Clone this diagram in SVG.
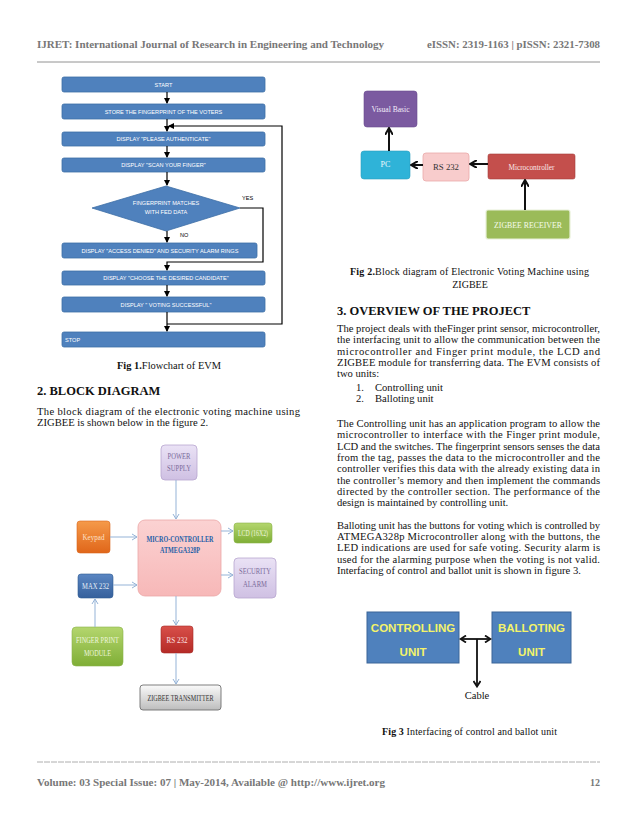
<svg xmlns="http://www.w3.org/2000/svg" width="638" height="826" viewBox="0 0 638 826">
<style>
.serif{font-family:"Liberation Serif","Times New Roman",serif;fill:#111}
.body{font-size:10.6px}
.hd{font-size:12.5px;font-weight:bold}
.cap{font-size:10px}
.pg{font-family:"Liberation Serif",serif;font-weight:bold;font-size:10px;fill:#777}
.fbox{fill:#4f81bd;stroke:#3e6ea6;stroke-width:0.8}
.ft{font-family:"Liberation Sans",Arial,sans-serif;font-size:5.6px;fill:#fff;text-anchor:middle}
.ftl{font-family:"Liberation Sans",Arial,sans-serif;font-size:5.6px;fill:#fff;text-anchor:start}
.fl{fill:none;stroke:#000;stroke-width:1.2}
.bl{fill:none;stroke:#95b3d7;stroke-width:1}
.bt{font-family:"Liberation Serif",serif;font-size:8px;text-anchor:middle}
.k{fill:none;stroke:#111;stroke-width:2}
.f3t{font-family:"Liberation Sans",Arial,sans-serif;font-weight:bold;font-size:11.5px;fill:#f4f36a;text-anchor:middle}
</style>
<defs>
<marker id="ah" markerWidth="6" markerHeight="6" refX="5" refY="3" orient="auto" markerUnits="userSpaceOnUse"><path d="M0,0 L6,3 L0,6 z" fill="#000"/></marker>
<marker id="ab" markerWidth="7" markerHeight="8" refX="6" refY="4" orient="auto" markerUnits="userSpaceOnUse"><path d="M1,1 L6,4 L1,7" fill="none" stroke="#95b3d7" stroke-width="1"/></marker>
<marker id="ak" markerWidth="8" markerHeight="8" refX="6" refY="4" orient="auto" markerUnits="userSpaceOnUse"><path d="M0,0 L7,4 L0,8" fill="none" stroke="#111" stroke-width="2"/></marker>
<marker id="ak2" markerWidth="8" markerHeight="8" refX="6" refY="4" orient="auto-start-reverse" markerUnits="userSpaceOnUse"><path d="M1,0.5 L6.5,4 L1,7.5" fill="none" stroke="#111" stroke-width="1.8"/></marker>
<linearGradient id="gPur" x1="0" y1="0" x2="0" y2="1"><stop offset="0" stop-color="#eae2f5"/><stop offset="1" stop-color="#cfc0e3"/></linearGradient>
<linearGradient id="gPink" x1="0" y1="0" x2="0" y2="1"><stop offset="0" stop-color="#fbd2d2"/><stop offset="1" stop-color="#f7b8b8"/></linearGradient>
<linearGradient id="gOr" x1="0" y1="0" x2="0" y2="1"><stop offset="0" stop-color="#f59a4a"/><stop offset="1" stop-color="#e0661a"/></linearGradient>
<linearGradient id="gGr" x1="0" y1="0" x2="0" y2="1"><stop offset="0" stop-color="#b4d66e"/><stop offset="1" stop-color="#7fae36"/></linearGradient>
<linearGradient id="gBl" x1="0" y1="0" x2="0" y2="1"><stop offset="0" stop-color="#5a86c2"/><stop offset="1" stop-color="#35609c"/></linearGradient>
<linearGradient id="gRd" x1="0" y1="0" x2="0" y2="1"><stop offset="0" stop-color="#d8504a"/><stop offset="1" stop-color="#b52a26"/></linearGradient>
<linearGradient id="gGy" x1="0" y1="0" x2="0" y2="1"><stop offset="0" stop-color="#fafafa"/><stop offset="1" stop-color="#bdbdbd"/></linearGradient>
</defs>
<rect width="638" height="826" fill="#fff"/>

<!-- page header / footer -->
<g id="header">
<text class="pg" x="37" y="48" textLength="347" lengthAdjust="spacingAndGlyphs">IJRET: International Journal of Research in Engineering and Technology</text>
<text class="pg" x="427" y="48" textLength="173" lengthAdjust="spacingAndGlyphs">eISSN: 2319-1163 | pISSN: 2321-7308</text>
<line x1="37" y1="62" x2="600" y2="62" stroke="#777" stroke-width="0.8"/>
</g>
<g id="footer">
<line x1="37" y1="762" x2="600" y2="762" stroke="#999" stroke-width="0.8" stroke-dasharray="6,1"/>
<text class="pg" x="37" y="786" textLength="348" lengthAdjust="spacingAndGlyphs">Volume: 03 Special Issue: 07 | May-2014, Available @ http://www.ijret.org</text>
<text class="pg" x="600" y="786" text-anchor="end">12</text>
</g>

<!-- Fig 1 flowchart -->
<g id="flowchart">
<g id="fc-start"><rect class="fbox" x="62" y="77" width="203" height="15" rx="2"/><text class="ft" x="163.5" y="86.5">START</text></g>
<g id="fc-store"><rect class="fbox" x="62" y="104" width="203" height="15" rx="2"/><text class="ft" x="163.5" y="113.5">STORE THE FINGERPRINT OF THE VOTERS</text></g>
<g id="fc-auth"><rect class="fbox" x="62" y="132" width="203" height="14" rx="2"/><text class="ft" x="163.5" y="141">DISPLAY "PLEASE AUTHENTICATE"</text></g>
<g id="fc-scan"><rect class="fbox" x="62" y="158" width="203" height="14" rx="2"/><text class="ft" x="163.5" y="167">DISPLAY "SCAN YOUR FINGER"</text></g>
<g id="fc-match"><polygon class="fbox" points="166,186 240,208 166,231 92,208"/><text class="ft" x="166" y="205">FINGERPRINT MATCHES</text><text class="ft" x="166" y="214">WITH FED DATA</text></g>
<g id="fc-denied"><rect class="fbox" x="62" y="243" width="195" height="15" rx="2"/><text class="ft" x="160" y="252.5">DISPLAY "ACCESS DENIED" AND SECURITY ALARM RINGS</text></g>
<g id="fc-choose"><rect class="fbox" x="62" y="271" width="203" height="14" rx="2"/><text class="ft" x="166" y="280">DISPLAY "CHOOSE THE DESIRED CANDIDATE"</text></g>
<g id="fc-voted"><rect class="fbox" x="62" y="297" width="203" height="15" rx="2"/><text class="ft" x="166" y="306.5">DISPLAY " VOTING SUCCESSFUL"</text></g>
<g id="fc-stop"><rect class="fbox" x="62" y="332" width="203" height="15" rx="2"/><text class="ftl" x="65" y="341.5">STOP</text></g>
</g>
<g id="fc-connectors">
<line class="fl" x1="167" y1="92" x2="167" y2="103" marker-end="url(#ah)"/>
<line class="fl" x1="167" y1="119" x2="167" y2="131" marker-end="url(#ah)"/>
<line class="fl" x1="167" y1="146" x2="167" y2="157" marker-end="url(#ah)"/>
<line class="fl" x1="167" y1="172" x2="167" y2="185" marker-end="url(#ah)"/>
<line class="fl" x1="167" y1="231" x2="167" y2="242" marker-end="url(#ah)"/>
<polyline class="fl" points="240,208 263,208 263,262 167,262 167,270" marker-end="url(#ah)"/>
<line class="fl" x1="167" y1="285" x2="167" y2="296" marker-end="url(#ah)"/>
<line class="fl" x1="167" y1="312" x2="167" y2="331" marker-end="url(#ah)"/>
<polyline class="fl" points="167,324 282,324 282,126 169,126" marker-end="url(#ah)"/>
<text x="242" y="200" font-family="Liberation Sans,Arial,sans-serif" font-size="5.6" fill="#000">YES</text>
<text x="180" y="237" font-family="Liberation Sans,Arial,sans-serif" font-size="5.6" fill="#000">NO</text>
</g>
<text class="serif cap" x="117" y="369" textLength="104" lengthAdjust="spacingAndGlyphs"><tspan font-weight="bold">Fig 1.</tspan>Flowchart of EVM</text>

<text class="serif hd" x="37" y="395">2. BLOCK DIAGRAM</text>
<text class="serif body" x="37" y="414.5" textLength="263" lengthAdjust="spacing">The block diagram of the electronic voting machine using</text>
<text class="serif body" x="37" y="425.5">ZIGBEE is shown below in the figure 2.</text>

<!-- Fig 2 (left) block diagram -->
<g id="block-diagram">
<g id="bd-power"><rect x="161" y="445" width="36" height="35" rx="4" fill="url(#gPur)" stroke="#b7a6cf" stroke-width="0.8"/><text class="bt" x="179" y="459" fill="#7a6a9a" textLength="23" lengthAdjust="spacingAndGlyphs">POWER</text><text class="bt" x="179" y="471" fill="#7a6a9a" textLength="24" lengthAdjust="spacingAndGlyphs">SUPPLY</text></g>
<g id="bd-micro"><rect x="138" y="520" width="83" height="76" rx="7" fill="url(#gPink)" stroke="#eba7a7" stroke-width="0.8"/><text class="bt" x="180" y="542" font-weight="bold" fill="#1f5fa8" textLength="67" lengthAdjust="spacingAndGlyphs">MICRO-CONTROLLER</text><text class="bt" x="180" y="552.5" font-weight="bold" fill="#1f5fa8" textLength="40" lengthAdjust="spacingAndGlyphs">ATMEGA328P</text></g>
<g id="bd-keypad"><rect x="77" y="521" width="33" height="32" rx="3" fill="url(#gOr)" stroke="#d9661d" stroke-width="0.6"/><text class="bt" x="93.5" y="540" fill="#fde1c6" textLength="22" lengthAdjust="spacingAndGlyphs">Keypad</text></g>
<g id="bd-lcd"><rect x="234" y="523" width="38" height="20" rx="3" fill="url(#gGr)" stroke="#8ab24a" stroke-width="0.6"/><text class="bt" x="253" y="536" fill="#eef6de" textLength="30" lengthAdjust="spacingAndGlyphs">LCD (16X2)</text></g>
<g id="bd-alarm"><rect x="234" y="558" width="42" height="40" rx="4" fill="url(#gPur)" stroke="#b7a6cf" stroke-width="0.8"/><text class="bt" x="255" y="574" fill="#7a6a9a" textLength="32" lengthAdjust="spacingAndGlyphs">SECURITY</text><text class="bt" x="255" y="587" fill="#7a6a9a" textLength="24" lengthAdjust="spacingAndGlyphs">ALARM</text></g>
<g id="bd-max"><rect x="78" y="574" width="35" height="24" rx="3" fill="url(#gBl)" stroke="#2f5a92" stroke-width="0.6"/><text class="bt" x="95.5" y="589" fill="#e6eef8" textLength="27" lengthAdjust="spacingAndGlyphs">MAX 232</text></g>
<g id="bd-finger"><rect x="72" y="627" width="51" height="39" rx="4" fill="url(#gGr)" stroke="#8ab24a" stroke-width="0.6"/><text class="bt" x="97.5" y="643" fill="#eef6de" textLength="43" lengthAdjust="spacingAndGlyphs">FINGER PRINT</text><text class="bt" x="97.5" y="656" fill="#eef6de" textLength="27" lengthAdjust="spacingAndGlyphs">MODULE</text></g>
<g id="bd-rs232"><rect x="161" y="626" width="32" height="27" rx="3" fill="url(#gRd)" stroke="#a52a26" stroke-width="0.6"/><text class="bt" x="177" y="642.5" fill="#fde2e2" textLength="21" lengthAdjust="spacingAndGlyphs">RS 232</text></g>
<g id="bd-zigbee"><rect x="140" y="685" width="81" height="25" rx="3" fill="url(#gGy)" stroke="#6f6f6f" stroke-width="0.9"/><text class="bt" x="180.5" y="700.5" fill="#333" textLength="66" lengthAdjust="spacingAndGlyphs">ZIGBEE TRANSMITTER</text></g>
</g>
<g id="bd-connectors">
<line class="bl" x1="176" y1="480" x2="176" y2="519" marker-end="url(#ab)"/>
<line class="bl" x1="110" y1="537" x2="137" y2="537" marker-end="url(#ab)"/>
<line class="bl" x1="221" y1="531" x2="233" y2="531" marker-end="url(#ab)"/>
<line class="bl" x1="221" y1="575" x2="233" y2="575" marker-end="url(#ab)"/>
<line class="bl" x1="113" y1="585" x2="137" y2="585" marker-end="url(#ab)"/>
<line class="bl" x1="95" y1="627" x2="95" y2="599" marker-end="url(#ab)"/>
<line class="bl" x1="176" y1="596" x2="176" y2="625" marker-end="url(#ab)"/>
<line class="bl" x1="176" y1="653" x2="176" y2="684" marker-end="url(#ab)"/>
</g>

<!-- Fig 2 (right) receiver side -->
<g id="receiver-diagram">
<g id="rx-vb"><rect x="364" y="91" width="53" height="36" rx="3" fill="#7b5aa0" stroke="#6a4a8e" stroke-width="0.6"/><text class="bt" x="390.5" y="112" fill="#f4eefb" textLength="38" lengthAdjust="spacingAndGlyphs">Visual Basic</text></g>
<g id="rx-pc"><rect x="361" y="151" width="49" height="28" rx="3" fill="#2fb3d8" stroke="#2a9fc0" stroke-width="0.6"/><text class="bt" x="385.5" y="167" fill="#eaf8fc">PC</text></g>
<g id="rx-rs"><rect x="423" y="153" width="46" height="28" rx="3" fill="#f8cccc" stroke="#eaa9a9" stroke-width="0.8"/><text class="bt" x="446" y="170" fill="#333" textLength="26" lengthAdjust="spacingAndGlyphs">RS 232</text></g>
<g id="rx-micro"><rect x="488" y="154" width="87" height="25" rx="2" fill="#c44f4c" stroke="#a43c39" stroke-width="0.6"/><text class="bt" x="531.5" y="170" fill="#fbe8e8" textLength="46" lengthAdjust="spacingAndGlyphs">Microcontroller</text></g>
<g id="rx-zig"><rect x="486" y="210" width="84" height="29" rx="2" fill="#9bbb59" stroke="#e8f0d8" stroke-width="1.2"/><text class="bt" x="528" y="228" fill="#f6fbea" font-size="9" textLength="68" lengthAdjust="spacingAndGlyphs">ZIGBEE RECEIVER</text></g>
</g>
<g id="rx-connectors">
<line class="k" x1="389" y1="151" x2="389" y2="129" marker-end="url(#ak)"/>
<line class="k" x1="423" y1="165" x2="412" y2="165" marker-end="url(#ak)"/>
<line class="k" x1="488" y1="164" x2="471" y2="164" marker-end="url(#ak)"/>
<line class="k" x1="525" y1="210" x2="525" y2="181" marker-end="url(#ak)"/>
</g>
<text class="serif cap" x="350" y="275" textLength="239" lengthAdjust="spacing"><tspan font-weight="bold">Fig 2.</tspan>Block diagram of Electronic Voting Machine using</text>
<text class="serif cap" x="470" y="288" text-anchor="middle">ZIGBEE</text>

<text class="serif hd" x="337" y="314.5">3. OVERVIEW OF THE PROJECT</text>
<g class="serif body">
<text x="337" y="331.5" textLength="263" lengthAdjust="spacing">The project deals with theFinger print sensor, microcontroller,</text>
<text x="337" y="343" textLength="263" lengthAdjust="spacing">the interfacing unit to allow the communication between the</text>
<text x="337" y="354.5" textLength="263" lengthAdjust="spacing">microcontroller and Finger print module, the LCD and</text>
<text x="337" y="366" textLength="263" lengthAdjust="spacing">ZIGBEE module for transferring data. The EVM consists of</text>
<text x="337" y="377">two units:</text>
<text x="356" y="391">1.</text><text x="375" y="391">Controlling unit</text>
<text x="356" y="402">2.</text><text x="375" y="402">Balloting unit</text>
<text x="337" y="426.5" textLength="263" lengthAdjust="spacing">The Controlling unit has an application program to allow the</text>
<text x="337" y="438" textLength="263" lengthAdjust="spacing">microcontroller to interface with the Finger print module,</text>
<text x="337" y="449.5" textLength="263" lengthAdjust="spacing">LCD and the switches. The fingerprint sensors senses the data</text>
<text x="337" y="461" textLength="263" lengthAdjust="spacing">from the tag, passes the data to the microcontroller and the</text>
<text x="337" y="472" textLength="263" lengthAdjust="spacing">controller verifies this data with the already existing data in</text>
<text x="337" y="483.5" textLength="263" lengthAdjust="spacing">the controller’s memory and then implement the commands</text>
<text x="337" y="494.5" textLength="263" lengthAdjust="spacing">directed by the controller section. The performance of the</text>
<text x="337" y="505.5">design is maintained by controlling unit.</text>
<text x="337" y="528.5" textLength="263" lengthAdjust="spacing">Balloting unit has the buttons for voting which is controlled by</text>
<text x="337" y="540" textLength="263" lengthAdjust="spacing">ATMEGA328p Microcontroller along with the buttons, the</text>
<text x="337" y="551" textLength="263" lengthAdjust="spacing">LED indications are used for safe voting. Security alarm is</text>
<text x="337" y="562.5" textLength="263" lengthAdjust="spacing">used for the alarming purpose when the voting is not valid.</text>
<text x="337" y="573.5">Interfacing of control and ballot unit is shown in figure 3.</text>
</g>

<!-- Fig 3 -->
<g id="f3-controlling"><rect x="367" y="612" width="92" height="51" fill="#4f81bd" stroke="#3a6598" stroke-width="1"/><text class="f3t" x="413" y="632">CONTROLLING</text><text class="f3t" x="413" y="656">UNIT</text></g>
<g id="f3-balloting"><rect x="492" y="612" width="79" height="51" fill="#4f81bd" stroke="#3a6598" stroke-width="1"/><text class="f3t" x="531.5" y="632">BALLOTING</text><text class="f3t" x="531.5" y="656">UNIT</text></g>
<g id="f3-connectors">
<line x1="461" y1="639" x2="490" y2="639" stroke="#111" stroke-width="1.8" marker-start="url(#ak2)" marker-end="url(#ak2)"/>
<line x1="477" y1="639" x2="477" y2="686" stroke="#111" stroke-width="1.8" marker-end="url(#ak2)"/>
</g>
<text class="serif" x="477" y="699" font-size="10.5" text-anchor="middle" fill="#222">Cable</text>
<text class="serif cap" x="382" y="735" textLength="175" lengthAdjust="spacing"><tspan font-weight="bold">Fig 3</tspan> Interfacing of control and ballot unit</text>
</svg>
